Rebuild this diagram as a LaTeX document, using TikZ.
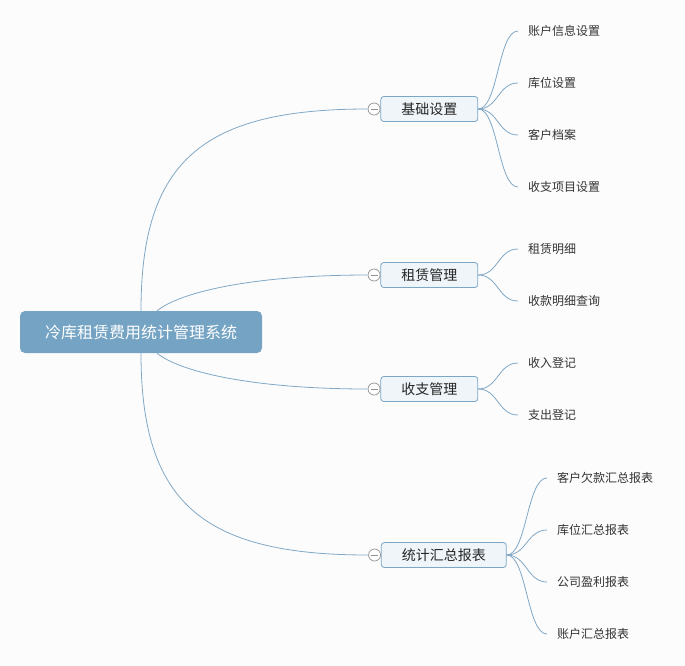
\documentclass[tikz,border=0pt]{standalone}
\usepackage{fontspec}
\newfontfamily\cjk{Noto Sans CJK SC}
\usetikzlibrary{positioning}
\definecolor{rootblue}{RGB}{116,163,195}
\definecolor{linkblue}{RGB}{128,168,198}
\definecolor{topicfill}{RGB}{239,245,249}
\definecolor{topicline}{RGB}{122,166,199}
\definecolor{togglegray}{RGB}{145,145,145}
\definecolor{pagegray}{RGB}{252,252,252}
\tikzset{
    rootbox/.style={
           rectangle,
           rounded corners=5pt,
           fill=rootblue,
           text=white,
           minimum width=242pt,
           minimum height=42pt,
           inner sep=2pt,
           font=\cjk\fontsize{16}{18}\selectfont,
           text centered,
           },
    topic/.style={
           rectangle,
           rounded corners=3pt,
           draw=topicline, line width=0.8pt,
           fill=topicfill,
           text=black!85,
           minimum height=25pt,
           inner xsep=20.5pt, inner ysep=2pt,
           font=\cjk\fontsize{14}{16}\selectfont,
           text centered,
           },
    leaf/.style={
           anchor=west,
           inner xsep=0pt, inner ysep=2pt,
           text=black!80,
           font=\cjk\fontsize{12}{14}\selectfont,
           },
    toggle/.style={
           circle,
           draw=togglegray, line width=0.7pt,
           fill=white,
           minimum size=12pt,
           inner sep=0pt,
           path picture={\draw[togglegray, line width=0.7pt]
               ([xshift=2.5pt]path picture bounding box.west) --
               ([xshift=-2.5pt]path picture bounding box.east);},
           },
    link/.style={draw=linkblue, line width=0.8pt},
}
\begin{document}
\begin{tikzpicture}[x=1pt, y=-1pt]
	\fill[pagegray] (0,0) rectangle (685,665);
	\useasboundingbox (0,0) rectangle (685,665);

	\node[rootbox] (root) at (141,332) {冷库租赁费用统计管理系统};

	% main topics
	\node[topic] (base) at (429.3,109) {基础设置};
	\node[topic] (rent) at (429.3,275) {租赁管理};
	\node[topic] (cash) at (429.3,389) {收支管理};
	\node[topic] (stat) at (443.8,555) {统计汇总报表};

	\node[toggle, left=0pt of base] (base-t) {};
	\node[toggle, left=0pt of rent] (rent-t) {};
	\node[toggle, left=0pt of cash] (cash-t) {};
	\node[toggle, left=0pt of stat] (stat-t) {};

	% subtopics
	\node[leaf] (acct)   at (528,31)  {账户信息设置};
	\node[leaf] (slot)   at (528,83)  {库位设置};
	\node[leaf] (client) at (528,135) {客户档案};
	\node[leaf] (item)   at (528,187) {收支项目设置};

	\node[leaf] (lease)  at (528,249) {租赁明细};
	\node[leaf] (paid)   at (528,301) {收款明细查询};

	\node[leaf] (income) at (528,363) {收入登记};
	\node[leaf] (spend)  at (528,415) {支出登记};

	\node[leaf] (debt)   at (557,478) {客户欠款汇总报表};
	\node[leaf] (slotsum) at (557,530) {库位汇总报表};
	\node[leaf] (profit) at (557,582) {公司盈利报表};
	\node[leaf] (acctsum) at (557,634) {账户汇总报表};

	% root to topics
	\path[link] (root.north) .. controls +(0,-150) and +(-165,0) .. (base-t.west);
	\path[link] ([xshift=16pt]root.north) .. controls +(25,-20) and +(-110,0) .. (rent-t.west);
	\path[link] ([xshift=16pt]root.south) .. controls +(25,20) and +(-110,0) .. (cash-t.west);
	\path[link] (root.south) .. controls +(0,150) and +(-165,0) .. (stat-t.west);

	% topics to subtopics
	\path[link] (base.east) .. controls +(20,0) and +(-20,0) .. ([xshift=-10pt]acct.west);
	\path[link] (base.east) .. controls +(20,0) and +(-20,0) .. ([xshift=-10pt]slot.west);
	\path[link] (base.east) .. controls +(20,0) and +(-20,0) .. ([xshift=-10pt]client.west);
	\path[link] (base.east) .. controls +(20,0) and +(-20,0) .. ([xshift=-10pt]item.west);

	\path[link] (rent.east) .. controls +(20,0) and +(-20,0) .. ([xshift=-10pt]lease.west);
	\path[link] (rent.east) .. controls +(20,0) and +(-20,0) .. ([xshift=-10pt]paid.west);

	\path[link] (cash.east) .. controls +(20,0) and +(-20,0) .. ([xshift=-10pt]income.west);
	\path[link] (cash.east) .. controls +(20,0) and +(-20,0) .. ([xshift=-10pt]spend.west);

	\path[link] (stat.east) .. controls +(20,0) and +(-20,0) .. ([xshift=-10pt]debt.west);
	\path[link] (stat.east) .. controls +(20,0) and +(-20,0) .. ([xshift=-10pt]slotsum.west);
	\path[link] (stat.east) .. controls +(20,0) and +(-20,0) .. ([xshift=-10pt]profit.west);
	\path[link] (stat.east) .. controls +(20,0) and +(-20,0) .. ([xshift=-10pt]acctsum.west);
\end{tikzpicture}
\end{document}
